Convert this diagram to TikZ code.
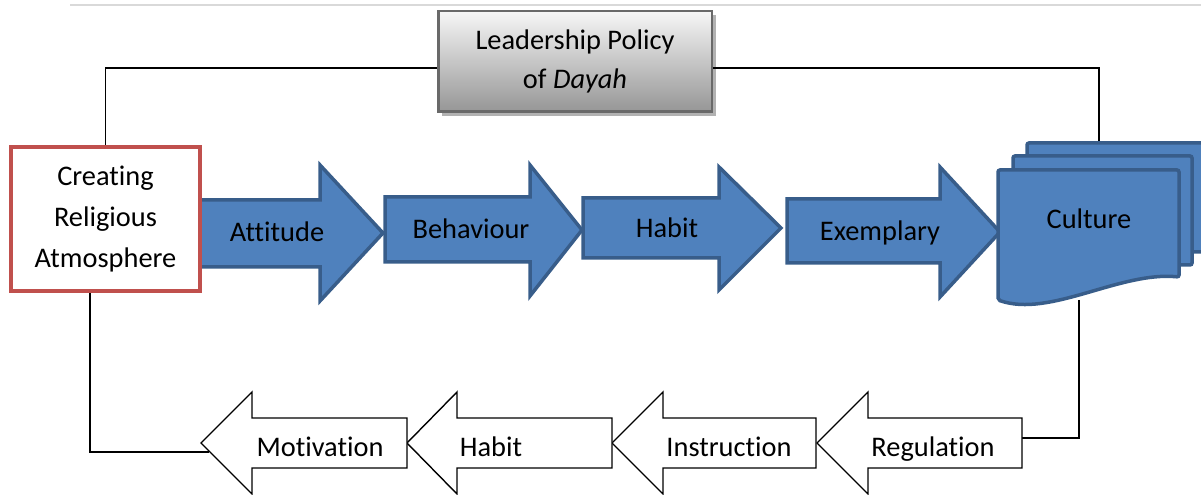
\documentclass[tikz,border=0pt]{standalone}
\usepackage{fontspec}
\setmainfont[Ligatures=NoCommon]{Carlito}
\usetikzlibrary{shadows}
\definecolor{flowblue}{RGB}{79,129,189}
\definecolor{flowedge}{RGB}{56,93,138}
\definecolor{boxred}{RGB}{192,80,77}
\definecolor{policytop}{RGB}{246,246,246}
\definecolor{policybot}{RGB}{150,150,150}
\definecolor{policyedge}{RGB}{105,105,105}
\definecolor{rulegray}{RGB}{217,217,217}

\begin{document}
\begin{tikzpicture}[x=1bp,y=-1bp,
  lbl/.style={font=\fontsize{28.5}{34}\selectfont, inner sep=0pt, anchor=base},
  bluearrow/.style={fill=flowblue, draw=flowedge, line width=3.5bp, line join=miter},
  whitearrow/.style={fill=white, draw=black, line width=1.4bp, line join=miter},
  link/.style={draw=black, line width=1.4bp},
  doc/.style={fill=flowblue, draw=flowedge, line width=3.5bp, rounded corners=2bp}]

\useasboundingbox (0,0) rectangle (1201,495);
\clip (0,0) rectangle (1201,495);

% thin rule along the top
\coordinate (ruleL) at (70,5);
\coordinate (ruleR) at (1201,5);
\draw[rulegray, line width=2bp] (ruleL) -- (ruleR);

% policy box
\node[draw=policyedge, line width=2.5bp, top color=policytop, bottom color=policybot,
      minimum width=273.5bp, minimum height=100.5bp, inner sep=0pt, align=center,
      font=\fontsize{28.5}{40}\selectfont,
      drop shadow={shadow xshift=4bp, shadow yshift=-4bp, fill=black, opacity=0.3}]
  (lead) at (575,61.5) {Leadership Policy\\of \textit{Dayah}};

% anchor points for the connectors
\coordinate (tl) at (0,68);
\coordinate (cultop) at (1099,143);
\coordinate (culbot) at (1079,300);
\coordinate (regtail) at (1022,438);
\coordinate (cbot) at (90,293);
\coordinate (motend) at (209,452);

% feedback connectors
\draw[link] (105.5,147) |- (lead.west |- tl);
\draw[link] (lead.east |- tl) -| (cultop);
\draw[link] (culbot) |- (regtail);
\draw[link] (cbot) |- (motend);

% forward flow arrows
\draw[bluearrow] (200,200) -- (320,200) -- (320,165) -- (383,233) -- (320,301) -- (320,267) -- (200,267) -- cycle;
\draw[bluearrow] (385,197) -- (530,197) -- (530,165) -- (582,230) -- (530,296) -- (530,262) -- (385,262) -- cycle;
\draw[bluearrow] (583,198) -- (719,198) -- (719,167) -- (781,228) -- (719,290) -- (719,258) -- (583,258) -- cycle;
\draw[bluearrow] (787,199) -- (940,199) -- (940,167) -- (1000,232) -- (940,297) -- (940,263) -- (787,263) -- cycle;

% stacked documents
\draw[doc] (1027,143) -- (1215,143) -- (1215,252) -- (1027,252) -- cycle;
\draw[doc] (1013,156) -- (1192,156) -- (1192,265) -- (1013,265) -- cycle;
\draw[doc] (998,170) -- (1179,170) -- (1179,277) .. controls (1120,271) and (1050,318) .. (998,300) -- cycle;

% starting box
\node[draw=boxred, line width=4bp, fill=white, minimum width=189bp, minimum height=144bp,
      inner sep=0pt, align=center, font=\fontsize{28.5}{41}\selectfont]
  (creating) at (105.5,219) {Creating\\Religious\\Atmosphere};

% return flow arrows
\draw[whitearrow] (1022,418) -- (868,418) -- (868,392) -- (817,443) -- (868,494) -- (868,468) -- (1022,468) -- cycle;
\draw[whitearrow] (816,418) -- (663,418) -- (663,392) -- (612,443) -- (663,494) -- (663,468) -- (816,468) -- cycle;
\draw[whitearrow] (612,418) -- (457,418) -- (457,392) -- (407,443) -- (457,494) -- (457,468) -- (612,468) -- cycle;
\draw[whitearrow] (407,418) -- (252,418) -- (252,392) -- (201,443) -- (252,494) -- (252,468) -- (407,468) -- cycle;

% labels
\node[lbl] (attitude) at (277,241.5) {Attitude};
\node[lbl] (behaviour) at (471,239) {Behaviour};
\node[lbl] (habitA) at (667,238) {Habit};
\node[lbl] (exemplary) at (880,240.5) {Exemplary};
\node[lbl] (culture) at (1089,229) {Culture};
\node[lbl] (regulation) at (933,456) {Regulation};
\node[lbl] (instruction) at (729,456) {Instruction};
\node[lbl] (habitB) at (491,456) {Habit};
\node[lbl] (motivation) at (320,456) {Motivation};
\end{tikzpicture}
\end{document}
